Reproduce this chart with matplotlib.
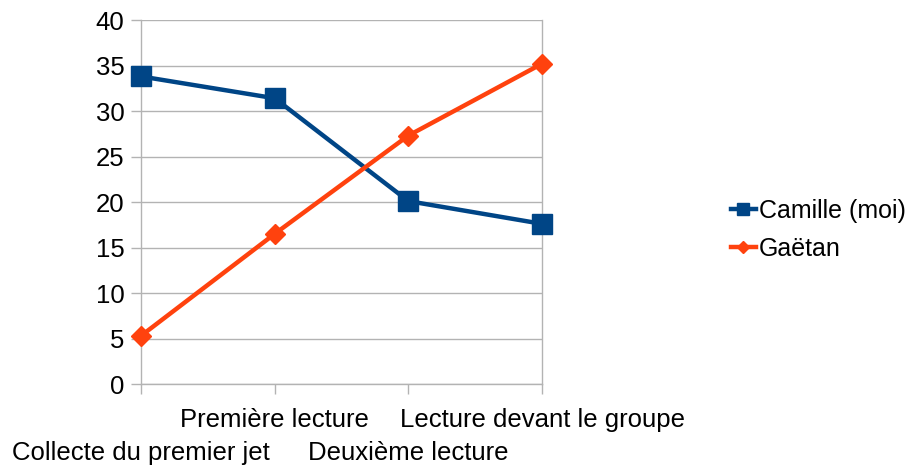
import matplotlib
matplotlib.use("Agg")
import matplotlib.pyplot as plt

# Data
STAGES = ["Collecte du premier jet", "Première lecture", "Deuxième lecture", "Lecture devant le groupe"]
CAMILLE = [33.8, 31.4, 20.1, 17.6]
GAETAN = [5.3, 16.5, 27.3, 35.2]
Y_TICKS = list(range(0, 45, 5))

BLUE = "#004586"
ORANGE = "#ff420e"
GRID = "#b3b3b3"

plt.rcParams["font.family"] = ["Liberation Sans", "DejaVu Sans"]

fig = plt.figure(figsize=(9.17, 4.72), dpi=100)
ax = fig.add_axes([0.1538, 0.1864, 0.4373, 0.7712])

x = list(range(len(STAGES)))
ax.plot(x, CAMILLE, color=BLUE, linewidth=3.2, marker="s", markersize=14,
        label="Camille (moi)", zorder=3, clip_on=False)
ax.plot(x, GAETAN, color=ORANGE, linewidth=3.2, marker="D", markersize=10.5,
        label="Gaëtan", zorder=4, clip_on=False)

ax.set_xlim(0, len(STAGES) - 1)
ax.set_ylim(0, 40)
ax.set_yticks(Y_TICKS)
ax.yaxis.grid(True, color=GRID, linewidth=1)
ax.set_axisbelow(True)

for side in ["left", "bottom", "right", "top"]:
    ax.spines[side].set_color(GRID)
    ax.spines[side].set_linewidth(1)
ax.spines["top"].set_visible(False)

ax.set_xticks(x)
ax.set_xticklabels(STAGES)
ax.tick_params(axis="both", colors=GRID, labelcolor="black", labelsize=18.5,
               length=7, width=1, direction="out")
ax.tick_params(axis="y", pad=5)
for i, tick in enumerate(ax.xaxis.get_major_ticks()):
    tick.set_pad(34 if i % 2 == 0 else 10)

ax.legend(loc="center left", bbox_to_anchor=(0.786, 0.513), bbox_transform=fig.transFigure,
          frameon=False, fontsize=18, handlelength=1.0, handletextpad=0.12,
          labelspacing=0.55, borderaxespad=0, markerscale=0.6)

fig.savefig("out.png", dpi=100)
